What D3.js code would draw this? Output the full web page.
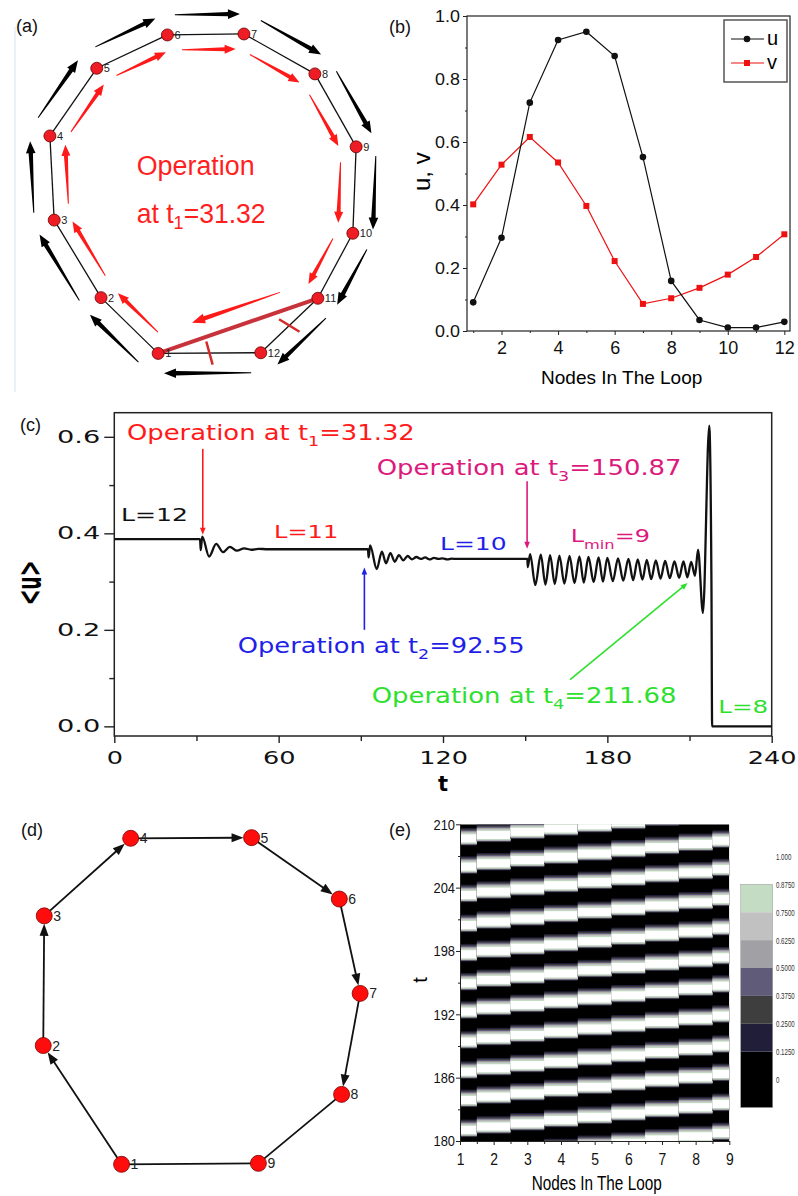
<!DOCTYPE html>
<html><head><meta charset="utf-8">
<script src="https://cdn.jsdelivr.net/npm/d3@7/dist/d3.min.js"></script>
<style>
html,body{margin:0;padding:0;background:#fff;}
svg{display:block;}
</style></head><body>
<svg id="fig" width="798" height="1196" xmlns="http://www.w3.org/2000/svg"></svg>
<script>
// ================= DATA =================
// (a) 12-node loop, layout positions in 0-100 layout units
const aNodes = [1,2,3,4,5,6,7,8,9,10,11,12];
const aNodeX = [35.8,18.5,4.3,3.0,17.2,38.6,61.8,83.3,95.8,94.8,84.2,66.9];
const aNodeY = [98.0,81.1,57.6,32.1,11.6,1.5,1.2,13.3,35.4,61.6,81.3,97.8];
const aNewLink = [11,1];
const aCutEdges = [[11,12],[12,1]];
const aRedArrowEdges = [[1,2],[2,3],[3,4],[4,5],[5,6],[6,7],[7,8],[8,9],[9,10],[10,11]];

// (b) node profile of u and v
const bNodes = [1,2,3,4,5,6,7,8,9,10,11,12];
const bU = [0.091,0.296,0.725,0.924,0.950,0.873,0.552,0.159,0.035,0.011,0.011,0.029];
const bV = [0.402,0.528,0.616,0.535,0.397,0.222,0.086,0.104,0.137,0.179,0.235,0.307];
const bXTicks = [2,4,6,8,10,12];
const bXMinor = [1,3,5,7,9,11];
const bYTicks = [0,0.2,0.4,0.6,0.8,1.0];
const bYMinor = [0.1,0.3,0.5,0.7,0.9];

// (c) mean activity <u> versus t
const cT = [0,31.3,31.55,32.1,34.6,37.2,39.7,42.2,44.8,47.4,50.0,52.6,56.0,92.6,
 92.85,93.4,95.8,97.7,99.2,100.8,102.4,103.9,105.5,107.1,108.7,110.3,111.9,113.5,115.1,116.7,118.3,119.9,121.5,123.1,125.0,150.8,
 150.95,151.8,153.7,155.7,157.4,159.1,160.8,162.5,164.3,166.2,168.0,169.8,171.4,173.1,175.0,176.8,178.4,180.0,182.0,183.9,185.8,187.7,189.4,191.1,192.8,194.4,196.0,197.7,199.4,201.1,202.8,204.5,206.2,207.8,209.2,210.6,212.0,
 213.1,214.9,217.2,218.0,218.25,240];
const cU = [0.388,0.388,0.365,0.393,0.352,0.378,0.361,0.372,0.364,0.369,0.366,0.368,0.367,0.367,
 0.350,0.375,0.326,0.362,0.338,0.359,0.341,0.355,0.344,0.353,0.346,0.351,0.347,0.350,0.346,0.349,0.347,0.348,0.346,0.3475,0.347,0.347,
 0.330,0.357,0.293,0.356,0.294,0.355,0.295,0.354,0.296,0.353,0.297,0.352,0.298,0.351,0.299,0.350,0.300,0.349,0.301,0.348,0.302,0.347,0.303,0.346,0.304,0.345,0.305,0.344,0.306,0.343,0.307,0.342,0.308,0.342,0.309,0.341,0.312,
 0.366,0.235,0.623,0.30,0.0,0.0];
const cXTicks = [0,60,120,180,240];
const cXMinor = [30,90,150,210];
const cYTicks = [0,0.2,0.4,0.6];
const cYMinor = [0.1,0.3,0.5];
const opTimes = ['31.32','92.55','150.87','211.68'];
const opSub = ['1','2','3','4'];
const opColors = ['#ff1a1a','#1f1fe8','#dc1a7e','#2ee02e'];
const opArrowFrom = [[32.3,0.575],[91.3,0.200],[150.7,0.508],[166.4,0.097]];
const opArrowTo   = [[32.3,0.397],[91.3,0.329],[150.7,0.368],[209.3,0.297]];
const loopSizes = ['12','11','10','9','8'];
const loopColors = ['#111111','#ff1a1a','#1f1fe8','#dc1a7e','#2ee02e'];

// (d) 9-node loop, layout positions in 0-100 layout units
const dNodes = [1,2,3,4,5,6,7,8,9];
const dNodeX = [25.1,1.0,1.3,27.9,65.1,92.1,98.5,92.8,67.2];
const dNodeY = [99.8,63.8,24.5,1.0,0.8,19.4,48.0,78.6,99.5];
const dHasHead = [true,true,true,true,true,true,true,false,false];

// (e) space-time plot
const eNodes = [1,2,3,4,5,6,7,8,9];
const ePeakNode1 = [178.3,181.05,183.89,186.57,189.42,192.26,194.94,197.69,200.46,203.3,205.99,208.67,211.4];
const eNodeLag = [0,0.32,0.62,0.93,1.24,1.54,1.85,2.15,2.46];
const eBandLevel = [0.1875,0.3125,0.4375,0.5625,0.6875,0.8125,0.94];
const eBandLo = [-0.68,-0.64,-0.60,-0.56,-0.52,-0.46,-0.38];
const eBandHi = [0.98,0.88,0.78,0.68,0.58,0.48,0.38];
const eYTicks = [180,186,192,198,204,210];
const eYMinor = [183,189,195,201,207];
const eXTicks = [1,2,3,4,5,6,7,8,9];
const eXMinor = [1.5,2.5,3.5,4.5,5.5,6.5,7.5,8.5];
const eThresholds = [0.125,0.25,0.375,0.5,0.625,0.75,0.875];
const eColors = ['#000000','#211e3a','#3e3e3e','#605b78','#a1a1a5','#c1c1c1','#c3dcc3','#ffffff'];
const eLegendValues = [1.0,0.875,0.75,0.625,0.5,0.375,0.25,0.125,0];
const eLegendLabels = ['1.000','0.8750','0.7500','0.6250','0.5000','0.3750','0.2500','0.1250','0'];
const eLegendLo = [-0.125,0.125,0.25,0.375,0.5,0.625,0.75];
const eLegendHi = [0.125,0.25,0.375,0.5,0.625,0.75,0.875];

// ================= HELPERS =================
const svg = d3.select('#fig');
const SANS = '"Liberation Sans", Arial, sans-serif';
const WIDE = '"DejaVu Sans", Verdana, sans-serif';
const NARROW = '"Liberation Sans", Arial, sans-serif';

function stretchX(sel, s){
  sel.each(function(){
    const b=this.getBBox();
    const an=getComputedStyle(this).textAnchor || this.getAttribute('text-anchor');
    const ax = an==='end'? b.x+b.width : an==='middle'? b.x+b.width/2 : b.x;
    d3.select(this).attr('transform',`translate(${ax},0) scale(${s},1) translate(${-ax},0)`);
  });
}
function fitText(t, x0, w){
  const b=t.node().getBBox(); const s=w/b.width;
  t.attr('transform',`translate(${x0},0) scale(${s},1) translate(${-b.x},0)`);
}
function richText(g, parts, x, y, size, color, family){
  const t=g.append('text').attr('x',x).attr('y',y).attr('font-size',size)
    .attr('fill',color).attr('font-family',family);
  parts.forEach(p=>{
    t.append('tspan').attr('font-size', p.sub? size*0.68 : size).attr('dy',p.dy||0).text(p.s);
  });
  return t;
}
function taperPath(x1,y1,x2,y2,head,hw,t0,t1){
  const dx=x2-x1, dy=y2-y1, L=Math.hypot(dx,dy), ux=dx/L, uy=dy/L, nx=-uy, ny=ux;
  const bx=x2-ux*head, by=y2-uy*head;
  const p=[[x1+nx*t0,y1+ny*t0],[bx+nx*t1,by+ny*t1],[bx+nx*hw,by+ny*hw],[x2,y2],
           [bx-nx*hw,by-ny*hw],[bx-nx*t1,by-ny*t1],[x1-nx*t0,y1-ny*t0]];
  return 'M'+p.map(q=>q[0].toFixed(2)+','+q[1].toFixed(2)).join('L')+'Z';
}
function headPath(x1,y1,x2,y2,head,hw){
  const dx=x2-x1, dy=y2-y1, L=Math.hypot(dx,dy), ux=dx/L, uy=dy/L, nx=-uy, ny=ux;
  const bx=x2-ux*head, by=y2-uy*head;
  return `M${x2},${y2}L${bx+nx*hw},${by+ny*hw}L${bx-nx*hw},${by-ny*hw}Z`;
}
function panelLabel(x,y,s){
  svg.append('text').attr('x',x).attr('y',y).attr('font-size',18).attr('font-family',SANS).attr('fill','#111').text(s);
}

// ================= PANEL (a) =================
{
  const aX = d3.scaleLinear().domain([0,100]).range([40,370]);
  const aY = d3.scaleLinear().domain([0,100]).range([30,360]);
  const g = svg.append('g');
  g.append('line').attr('x1',15).attr('x2',15).attr('y1',27).attr('y2',392)
    .attr('stroke','#e4edf7').attr('stroke-width',1.5);
  panelLabel(16,32,'(a)');
  const P = new Map(aNodes.map((n,i)=>[n,{x:aX(aNodeX[i]),y:aY(aNodeY[i])}]));
  const Cx = d3.mean(aNodes,n=>P.get(n).x), Cy = d3.mean(aNodes,n=>P.get(n).y);
  const loopEdges = aNodes.map((n,i)=>[n,aNodes[(i+1)%aNodes.length]]);
  function seg(a,b,off,frac,shift){
    const A=P.get(a),B=P.get(b);
    const dx=B.x-A.x, dy=B.y-A.y, L=Math.hypot(dx,dy), ux=dx/L, uy=dy/L;
    let nx=-uy, ny=ux;
    const mx=(A.x+B.x)/2, my=(A.y+B.y)/2;
    if(nx*(mx-Cx)+ny*(my-Cy)<0){nx=-nx;ny=-ny;}
    const cx=mx+nx*off+ux*shift, cy=my+ny*off+uy*shift, h=L*frac/2;
    return [cx-ux*h, cy-uy*h, cx+ux*h, cy+uy*h];
  }
  g.selectAll('line.edge').data(loopEdges).join('line').attr('class','edge')
    .attr('x1',d=>P.get(d[0]).x).attr('y1',d=>P.get(d[0]).y)
    .attr('x2',d=>P.get(d[1]).x).attr('y2',d=>P.get(d[1]).y)
    .attr('stroke','#111').attr('stroke-width',1.3);
  g.selectAll('path.outer').data(loopEdges).join('path').attr('class','outer')
    .attr('d',d=>{const s=seg(d[0],d[1],20,0.85,2); return taperPath(...s,12,4.8,0.5,2.2);})
    .attr('fill','#000');
  g.selectAll('path.inner').data(aRedArrowEdges).join('path').attr('class','inner')
    .attr('d',d=>{const s=seg(d[0],d[1],-15,0.70,3); return taperPath(...s,11,4.5,0.5,2.0);})
    .attr('fill','#ff1a1a');
  g.append('line').attr('x1',P.get(aNewLink[0]).x).attr('y1',P.get(aNewLink[0]).y)
    .attr('x2',P.get(aNewLink[1]).x).attr('y2',P.get(aNewLink[1]).y)
    .attr('stroke','#c8323a').attr('stroke-width',4);
  g.append('path').attr('d',()=>{const s=seg(aNewLink[0],aNewLink[1],-18,0.55,-4); return taperPath(...s,13,5,0.5,2.2);})
    .attr('fill','#ff1a1a');
  g.selectAll('line.cut').data(aCutEdges).join('line').attr('class','cut')
    .each(function(d){
      const A=P.get(d[0]),B=P.get(d[1]);
      const dx=B.x-A.x, dy=B.y-A.y, L=Math.hypot(dx,dy);
      let px=-dy/L, py=dx/L; const th=-15*Math.PI/180;
      const rx=px*Math.cos(th)-py*Math.sin(th), ry=px*Math.sin(th)+py*Math.cos(th);
      const mx=(A.x+B.x)/2, my=(A.y+B.y)/2, h=12;
      d3.select(this).attr('x1',mx-rx*h).attr('y1',my-ry*h).attr('x2',mx+rx*h).attr('y2',my+ry*h);
    })
    .attr('stroke','#d42a2a').attr('stroke-width',2.5);
  g.selectAll('circle').data(aNodes).join('circle')
    .attr('cx',n=>P.get(n).x).attr('cy',n=>P.get(n).y).attr('r',6)
    .attr('fill','#ee1c24').attr('stroke','#6a0000').attr('stroke-width',0.8);
  g.selectAll('text.lab').data(aNodes).join('text').attr('class','lab')
    .attr('x',n=>P.get(n).x+7).attr('y',n=>P.get(n).y+4)
    .attr('font-size',11).attr('font-family',SANS).attr('fill','#222').text(n=>n);
  const t1=g.append('text').attr('x',136.7).attr('y',175).attr('font-size',27)
    .attr('font-family',SANS).attr('fill','#ff1f1f').text('Operation');
  fitText(t1,136.7,118);
  const t2=richText(g,[{s:'at t'},{s:'1',sub:true,dy:6},{s:'=31.32',dy:-6}],136.7,222.7,27,'#ff1f1f',SANS);
  fitText(t2,136.7,129);
}

// ================= PANEL (b) =================
{
  const g = svg.append('g');
  const x = d3.scaleLinear().domain([0.78,12.2]).range([467,790]);
  const y = d3.scaleLinear().domain([0,1]).range([331,16]);
  panelLabel(389,33,'(b)');
  g.append('rect').attr('x',467).attr('y',16).attr('width',323).attr('height',315)
    .attr('fill','none').attr('stroke','#222').attr('stroke-width',1.2);
  const ya = g.append('g').attr('transform','translate(467,0)')
    .call(d3.axisLeft(y).tickValues(bYTicks).tickFormat(d3.format('.1f')).tickSize(4).tickPadding(3).tickSizeOuter(0));
  g.append('g').attr('transform','translate(467,0)')
    .call(d3.axisLeft(y).tickValues(bYMinor).tickFormat('').tickSize(2).tickSizeOuter(0));
  const xa = g.append('g').attr('transform','translate(0,331)')
    .call(d3.axisBottom(x).tickValues(bXTicks).tickSize(4).tickPadding(6).tickSizeOuter(0));
  g.append('g').attr('transform','translate(0,331)')
    .call(d3.axisBottom(x).tickValues(bXMinor).tickFormat('').tickSize(2).tickSizeOuter(0));
  g.selectAll('.domain').remove();
  g.selectAll('.tick line').attr('stroke','#222');
  ya.selectAll('text').attr('font-size',16).attr('font-family',SANS).attr('fill','#111');
  xa.selectAll('text').attr('font-size',18).attr('font-family',SANS).attr('fill','#111');
  stretchX(ya.selectAll('text'),1.12);
  const line = d3.line().x((d,i)=>x(bNodes[i])).y(d=>y(d));
  g.append('path').attr('d',line(bV)).attr('fill','none').attr('stroke','#ee1111').attr('stroke-width',1.2);
  g.append('path').attr('d',line(bU)).attr('fill','none').attr('stroke','#111').attr('stroke-width',1.2);
  g.selectAll('rect.v').data(bV).join('rect').attr('class','v')
    .attr('x',(d,i)=>x(bNodes[i])-3).attr('y',d=>y(d)-3).attr('width',6).attr('height',6).attr('fill','#ee1111');
  g.selectAll('circle.u').data(bU).join('circle').attr('class','u')
    .attr('cx',(d,i)=>x(bNodes[i])).attr('cy',d=>y(d)).attr('r',3.3).attr('fill','#111');
  g.append('rect').attr('x',724).attr('y',20).attr('width',63).attr('height',62)
    .attr('fill','#fff').attr('stroke','#555').attr('stroke-width',1.5);
  g.append('line').attr('x1',731).attr('x2',764).attr('y1',39).attr('y2',39).attr('stroke','#111').attr('stroke-width',1.2);
  g.append('circle').attr('cx',747).attr('cy',39).attr('r',3.3).attr('fill','#111');
  g.append('line').attr('x1',731).attr('x2',764).attr('y1',63).attr('y2',63).attr('stroke','#ee1111').attr('stroke-width',1.2);
  g.append('rect').attr('x',744).attr('y',60).attr('width',6).attr('height',6).attr('fill','#ee1111');
  g.append('text').attr('x',767).attr('y',45).attr('font-size',20).attr('font-family',SANS).text('u');
  g.append('text').attr('x',767).attr('y',69).attr('font-size',20).attr('font-family',SANS).text('v');
  g.append('text').attr('x',621.7).attr('y',384).attr('text-anchor','middle')
    .attr('font-size',19).attr('font-family',SANS).text('Nodes In The Loop');
  g.append('text').attr('transform','translate(430,171.7) rotate(-90)').attr('text-anchor','middle')
    .attr('font-size',24).attr('font-family',SANS).text('u, v');
}

// ================= PANEL (c) =================
{
  const g = svg.append('g');
  const x = d3.scaleLinear().domain([0,240]).range([114.3,771.7]);
  const y = d3.scaleLinear().domain([-0.02,0.65]).range([736,412.7]);
  panelLabel(20,431,'(c)');
  g.append('rect').attr('x',114.3).attr('y',412.7).attr('width',657.4).attr('height',323.3)
    .attr('fill','none').attr('stroke','#222').attr('stroke-width',1.5);
  const ya = g.append('g').attr('transform','translate(114.3,0)')
    .call(d3.axisLeft(y).tickValues(cYTicks).tickFormat(d3.format('.1f')).tickSize(10).tickPadding(4).tickSizeOuter(0));
  g.append('g').attr('transform','translate(114.3,0)')
    .call(d3.axisLeft(y).tickValues(cYMinor).tickFormat('').tickSize(5).tickSizeOuter(0));
  const xa = g.append('g').attr('transform','translate(0,736)')
    .call(d3.axisBottom(x).tickValues(cXTicks).tickSize(7).tickSizeOuter(0));
  g.append('g').attr('transform','translate(0,736)')
    .call(d3.axisBottom(x).tickValues(cXMinor).tickFormat('').tickSize(5).tickSizeOuter(0));
  g.selectAll('.domain').remove();
  g.selectAll('.tick line').attr('stroke','#222').attr('stroke-width',1.4);
  ya.selectAll('text').attr('font-size',17).attr('font-family',WIDE).attr('fill','#111');
  xa.selectAll('text').attr('font-size',18).attr('font-family',WIDE).attr('fill','#111').attr('y',28.3).attr('dy',0);
  stretchX(ya.selectAll('text'),1.6);
  stretchX(xa.selectAll('text'),1.42);
  const line = d3.line().x((d,i)=>x(cT[i])).y(d=>y(d)).curve(d3.curveMonotoneX);
  g.append('path').attr('d',line(cU)).attr('fill','none').attr('stroke','#111').attr('stroke-width',2.3)
    .attr('stroke-linejoin','round');
  opArrowFrom.forEach((f,i)=>{
    const x1=x(f[0]), y1=y(f[1]), x2=x(opArrowTo[i][0]), y2=y(opArrowTo[i][1]);
    const L=Math.hypot(x2-x1,y2-y1), ux=(x2-x1)/L, uy=(y2-y1)/L;
    g.append('line').attr('x1',x1).attr('y1',y1).attr('x2',x2-ux*5).attr('y2',y2-uy*5)
      .attr('stroke',opColors[i]).attr('stroke-width',1.6);
    g.append('path').attr('d',headPath(x1,y1,x2,y2,7,2.8)).attr('fill',opColors[i]);
  });
  const opX=[127,237.7,376.7,371.7], opY=[440,653.3,475,703.3], opW=[288,287,305,305];
  opTimes.forEach((v,i)=>{
    const t=richText(g,[{s:'Operation at t'},{s:opSub[i],sub:true,dy:6},{s:'='+v,dy:-6}],opX[i],opY[i],21,opColors[i],WIDE);
    fitText(t,opX[i],opW[i]);
  });
  const lX=[121,274,440,570.7,718.3], lY=[520.7,538.3,550,541.7,713.3], lW=[67,64.3,66.7,79.3,50];
  loopSizes.forEach((v,i)=>{
    const parts = i===3 ? [{s:'L'},{s:'min',sub:true,dy:7},{s:'='+v,dy:-7}] : [{s:'L='+v}];
    const t=richText(g,parts,lX[i],lY[i],18,loopColors[i],WIDE);
    fitText(t,lX[i],lW[i]);
  });
  g.append('text').attr('transform','translate(41,583) rotate(-90) scale(0.55,1)').attr('text-anchor','middle')
    .attr('font-size',34).attr('font-weight','bold').attr('font-family',WIDE).text('<u>');
  g.append('text').attr('x',443).attr('y',791).attr('text-anchor','middle')
    .attr('font-size',21).attr('font-weight','bold').attr('font-family',WIDE).text('t');
}

// ================= PANEL (d) =================
{
  const g = svg.append('g');
  const x = d3.scaleLinear().domain([0,100]).range([40,365]);
  const y = d3.scaleLinear().domain([0,100]).range([835,1165]);
  panelLabel(21,836,'(d)');
  const P = dNodes.map((n,i)=>({x:x(dNodeX[i]),y:y(dNodeY[i])}));
  const r=8;
  dNodes.forEach((n,i)=>{
    const A=P[i], B=P[(i+1)%dNodes.length];
    const dx=B.x-A.x, dy=B.y-A.y, L=Math.hypot(dx,dy), ux=dx/L, uy=dy/L;
    const ex = B.x-ux*r, ey = B.y-uy*r;
    g.append('line').attr('x1',A.x).attr('y1',A.y)
      .attr('x2',dHasHead[i]? ex-ux*8 : B.x).attr('y2',dHasHead[i]? ey-uy*8 : B.y)
      .attr('stroke','#111').attr('stroke-width',1.8);
    if(dHasHead[i]) g.append('path').attr('d',headPath(A.x,A.y,ex,ey,12,4.5)).attr('fill','#111');
  });
  g.selectAll('circle').data(P).join('circle').attr('cx',d=>d.x).attr('cy',d=>d.y).attr('r',r)
    .attr('fill','#ff0d0d').attr('stroke','#7a0000').attr('stroke-width',0.8);
  g.selectAll('text.lab').data(dNodes).join('text').attr('class','lab')
    .attr('x',(n,i)=>P[i].x+9).attr('y',(n,i)=>P[i].y+5)
    .attr('font-size',14).attr('font-family',SANS).attr('fill','#222').text(n=>n);
}

// ================= PANEL (e) =================
{
  const g = svg.append('g');
  const x = d3.scaleLinear().domain([1,9]).range([460,729.3]);
  const y = d3.scaleLinear().domain([180,210]).range([1141,824.3]);
  const color = d3.scaleThreshold().domain(eThresholds).range(eColors);
  panelLabel(389,836,'(e)');
  svg.append('clipPath').attr('id','eclip').append('rect')
    .attr('x',460).attr('y',824.3).attr('width',269.3).attr('height',316.7);
  const hm = g.append('g').attr('clip-path','url(#eclip)');
  hm.append('rect').attr('x',460).attr('y',824.3).attr('width',269.3).attr('height',316.7).attr('fill',color(0));
  eNodes.forEach((k,ki)=>{
    const x0=x(Math.max(1,k-0.5)), x1=x(Math.min(9,k+0.5));
    ePeakNode1.forEach(p0=>{
      const p=p0+eNodeLag[ki];
      eBandLevel.forEach((lv,j)=>{
        hm.append('rect').attr('x',x0).attr('width',x1-x0)
          .attr('y',y(p+eBandHi[j])).attr('height',y(p+eBandLo[j])-y(p+eBandHi[j]))
          .attr('fill',color(lv));
      });
    });
  });
  const ya = g.append('g').attr('transform','translate(460,0)')
    .call(d3.axisLeft(y).tickValues(eYTicks).tickSize(4).tickPadding(1).tickSizeOuter(0));
  g.append('g').attr('transform','translate(460,0)')
    .call(d3.axisLeft(y).tickValues(eYMinor).tickFormat('').tickSize(2).tickSizeOuter(0));
  const xa = g.append('g').attr('transform','translate(0,1141)')
    .call(d3.axisBottom(x).tickValues(eXTicks).tickSize(4).tickSizeOuter(0));
  g.append('g').attr('transform','translate(0,1141)')
    .call(d3.axisBottom(x).tickValues(eXMinor).tickFormat('').tickSize(3).tickSizeOuter(0));
  g.selectAll('.domain').attr('stroke','#222');
  g.selectAll('.tick line').attr('stroke','#222');
  ya.selectAll('text').attr('font-size',15).attr('font-family',NARROW).attr('fill','#111');
  xa.selectAll('text').attr('font-size',17).attr('font-family',NARROW).attr('fill','#111').attr('y',24.5).attr('dy',0);
  stretchX(ya.selectAll('text'),0.86);
  stretchX(xa.selectAll('text'),0.82);
  const xl = g.append('text').attr('x',596.7).attr('y',1190).attr('text-anchor','middle')
    .attr('font-size',21).attr('font-family',NARROW).text('Nodes In The Loop');
  stretchX(xl,0.73);
  g.append('text').attr('transform','translate(427,980) rotate(-90)').attr('text-anchor','middle')
    .attr('font-size',20).attr('font-family',NARROW).text('t');
  const ly = d3.scaleLinear().domain([-0.125,1]).range([1107.5,856.4]);
  g.selectAll('rect.leg').data(eLegendLo).join('rect').attr('class','leg')
    .attr('x',740.7).attr('width',32).attr('y',(d,i)=>ly(eLegendHi[i])).attr('height',(d,i)=>ly(d)-ly(eLegendHi[i]))
    .attr('fill',(d,i)=>color((d+eLegendHi[i])/2));
  g.append('rect').attr('x',740.7).attr('width',32).attr('y',ly(0.875)).attr('height',ly(-0.125)-ly(0.875))
    .attr('fill','none').attr('stroke','#999').attr('stroke-width',0.5);
  const lt = g.selectAll('text.leg').data(eLegendValues).join('text').attr('class','leg')
    .attr('x',776).attr('y',d=>ly(d)+3.5).attr('font-size',9).attr('font-family',NARROW).attr('fill','#333')
    .text((d,i)=>eLegendLabels[i]);
  stretchX(lt,0.68);
}
</script>
</body></html>
